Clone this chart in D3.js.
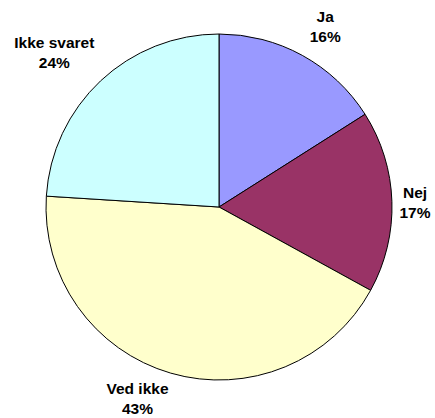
<!DOCTYPE html>
<html>
<head>
<meta charset="utf-8">
<script src="https://cdn.jsdelivr.net/npm/d3@7"></script>
<style>
  body { margin: 0; background: #fff; overflow: hidden; }
  text { font-family: "Liberation Sans", Arial, sans-serif; font-weight: bold; font-size: 15.5px; }
</style>
</head>
<body>
<script>
const width = 435;
const height = 418;

const categories = ["Ja", "Nej", "Ved ikke", "Ikke svaret"];
const values = [16, 17, 43, 24];
const colors = ["#9999FF", "#993366", "#FFFFCC", "#CCFFFF"];

// label spot per slice: angle (deg, clockwise from top) and distance from centre
const labelAngle = [31.2, 90.3, 202.5, 312.1];
const labelDist = [205, 196, 213, 222];

const cx = 219, cy = 207, radius = 173;

let svg = d3.select("body").append("svg")
  .attr("width", width)
  .attr("height", height);

let g = svg.append("g").attr("transform", `translate(${cx},${cy})`);

let pie = d3.pie().sort(null).value(d => d);
let arc = d3.arc().innerRadius(0).outerRadius(radius);

let slices = pie(values);

g.selectAll("path")
  .data(slices)
  .enter().append("path")
  .attr("d", arc)
  .attr("fill", (d, i) => colors[i])
  .attr("stroke", "#000")
  .attr("stroke-width", 1);

let total = d3.sum(values);

let labels = g.selectAll("g.lbl")
  .data(slices)
  .enter().append("g")
  .attr("class", "lbl")
  .attr("transform", (d, i) => {
    let a = labelAngle[i] * Math.PI / 180;
    return `translate(${labelDist[i] * Math.sin(a)},${-labelDist[i] * Math.cos(a)})`;
  });

labels.append("text")
  .attr("text-anchor", "middle")
  .attr("y", -10)
  .text((d, i) => categories[i]);

labels.append("text")
  .attr("text-anchor", "middle")
  .attr("y", 10)
  .text(d => Math.round(d.value / total * 100) + "%");
</script>
</body>
</html>
